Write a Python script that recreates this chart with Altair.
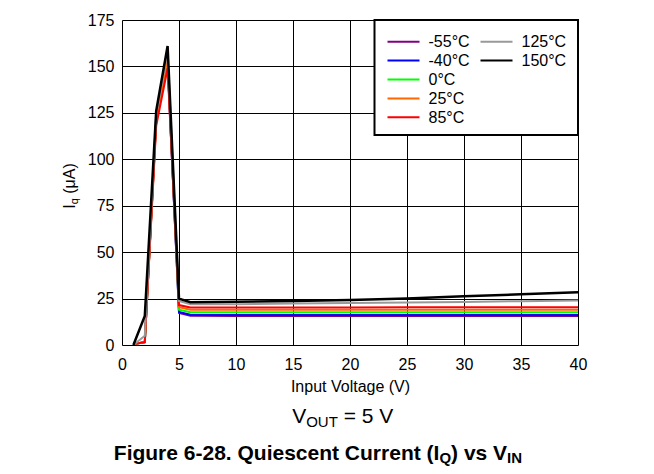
import altair as alt
import pandas as pd

# ---- data ----
vin = [1, 2, 3, 4, 5, 6, 10, 15, 20, 25, 30, 35, 40]
temps = ["-55°C", "-40°C", "0°C", "25°C", "85°C", "125°C", "150°C"]
colors = ["#800080", "#0000FF", "#00FF00", "#FF6600", "#FF0000", "#999999", "#000000"]
iq_m55 = [0.5, 1.5, 122, 152, 17.3, 15.7, 15.6, 15.6, 15.6, 15.6, 15.6, 15.6, 15.6]
iq_m40 = [0.5, 1.5, 121, 152, 17.8, 16.3, 16.2, 16.2, 16.1, 16.1, 16.1, 16.1, 16.1]
iq_0 = [0.5, 1.5, 121, 153, 19.0, 17.7, 17.7, 17.6, 17.6, 17.6, 17.6, 17.6, 17.6]
iq_25 = [0.5, 1.5, 120, 155, 20.3, 19.0, 19.0, 19.0, 19.0, 19.0, 19.0, 19.0, 19.0]
iq_85 = [0.5, 1.5, 118, 149, 21.5, 20.2, 20.2, 20.2, 20.2, 20.3, 20.3, 20.3, 20.3]
iq_125 = [0.0, 5.0, 124, 158, 23.7, 21.9, 22.0, 22.3, 22.6, 22.9, 23.2, 23.6, 24.0]
iq_150 = [0.0, 15.6, 126, 161, 25.0, 23.0, 23.3, 23.7, 24.2, 25.0, 26.2, 27.3, 28.4]
series = [iq_m55, iq_m40, iq_0, iq_25, iq_85, iq_125, iq_150]

x_ticks = [0, 5, 10, 15, 20, 25, 30, 35, 40]
y_ticks = [0, 25, 50, 75, 100, 125, 150, 175]

ytitle_parts = ["I", "q", "(μA)"]
vout_parts = ["V", "OUT", "= 5 V"]
fig_parts = ["Figure 6-28. Quiescent Current (I", "Q", ") vs V", "IN"]

FONT = "Liberation Sans"

rows = []
for t, vals in zip(temps, series):
    for xv, yv in zip(vin, vals):
        rows.append({"vin": xv, "iq": yv, "temp": t})
df = pd.DataFrame(rows)

color_scale = alt.Scale(domain=temps, range=colors)

layers = []
for i, t in enumerate(temps):
    layers.append(
        alt.Chart(df)
        .transform_filter(alt.datum.temp == t)
        .mark_line(strokeWidth=2.5 if t == "150°C" else 2, clip=True)
        .encode(
            x=alt.X("vin:Q", scale=alt.Scale(domain=[0, 40], nice=False),
                    axis=alt.Axis(values=x_ticks, title="Input Voltage (V)",
                                  titleFontSize=16, titleFontWeight="normal",
                                  titleFont=FONT, titleColor="black", titlePadding=6,
                                  labelFontSize=16, labelFont=FONT, labelColor="black",
                                  labelPadding=11, labelFlush=False, ticks=False,
                                  domain=False, grid=True, gridColor="black",
                                  gridWidth=1, gridOpacity=1)),
            y=alt.Y("iq:Q", scale=alt.Scale(domain=[0, 175], nice=False),
                    axis=alt.Axis(values=y_ticks, title=None,
                                  labelFontSize=16, labelFont=FONT, labelColor="black",
                                  labelPadding=8, labelFlush=False, ticks=False,
                                  domain=False, grid=True, gridColor="black",
                                  gridWidth=1, gridOpacity=1)),
            color=alt.Color("temp:N", scale=color_scale, legend=None),
        )
    )

# legend frame (white box with black border)
layers.append(
    alt.Chart(pd.DataFrame({"k": [0]}))
    .mark_rect(fill="white", stroke="black", strokeWidth=2)
    .encode(x=alt.value(252.5), x2=alt.value(456), y=alt.value(0), y2=alt.value(115))
)

# legend entries: two columns, filled column-wise (5 rows)
for i, (t, c) in enumerate(zip(temps, colors)):
    col, row = divmod(i, 5)
    sx = 265.5 + col * 93
    sy = 21.7 + row * 18.9
    one = pd.DataFrame({"t": [t]})
    layers.append(
        alt.Chart(one).mark_rule(color=c, strokeWidth=2)
        .encode(x=alt.value(sx), x2=alt.value(sx + 32), y=alt.value(sy))
    )
    layers.append(
        alt.Chart(one).mark_text(align="left", baseline="middle", fontSize=16,
                                 font=FONT, color="black")
        .encode(text="t:N", x=alt.value(sx + 41), y=alt.value(sy + 0.5))
    )


def txt(s, x, y, size, bold=False, angle=None):
    kw = dict(align="left", baseline="alphabetic", fontSize=size, font=FONT,
              color="black", fontWeight="bold" if bold else "normal")
    if angle is not None:
        kw["angle"] = angle
    return (alt.Chart(pd.DataFrame({"t": [s]}))
            .mark_text(**kw)
            .encode(text="t:N", x=alt.value(x), y=alt.value(y)))


# y axis title  I_q (μA), rotated
layers.append(txt(ytitle_parts[0], -47.5, 188.8, 16, angle=270))
layers.append(txt(ytitle_parts[1], -44.0, 184.3, 11, angle=270))
layers.append(txt(ytitle_parts[2], -47.5, 173.8, 16, angle=270))

# V_OUT = 5 V
layers.append(txt(vout_parts[0], 170.2, 403.3, 21))
layers.append(txt(vout_parts[1], 184.2, 407.3, 15))
layers.append(txt(vout_parts[2], 221.7, 403.3, 21))

# Figure caption
layers.append(txt(fig_parts[0], -8.2, 440.0, 21, bold=True))
layers.append(txt(fig_parts[1], 317.4, 442.8, 15, bold=True))
layers.append(txt(fig_parts[2], 329.1, 440.0, 21, bold=True))
layers.append(txt(fig_parts[3], 385.1, 442.8, 15, bold=True))

chart = (
    alt.layer(*layers)
    .properties(width=456, height=325,
                autosize=alt.AutoSizeParams(type="none"),
                padding={"left": 114, "top": 12, "right": 68, "bottom": 121})
    .configure_view(stroke="black", strokeWidth=2.5)
    .configure(background="white")
)

chart.save("out.html", embed_options={"renderer": "svg", "actions": False})
